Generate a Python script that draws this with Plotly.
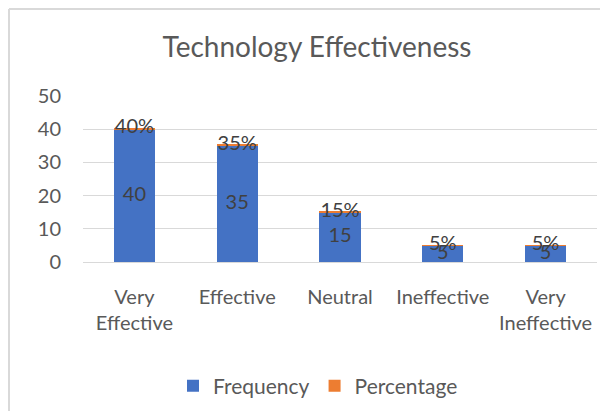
import plotly.graph_objects as go

categories = ["Very<br>Effective", "Effective", "Neutral", "Ineffective", "Very<br>Ineffective"]
frequency = [40, 35, 15, 5, 5]
percentage = [0.40, 0.35, 0.15, 0.05, 0.05]
y_ticks = [0, 10, 20, 30, 40, 50]

BLUE = "#4472C4"
ORANGE = "#ED7D31"
AXIS_TXT = "#595959"
LABEL_TXT = "#404040"
FONT = "Lato"

fig = go.Figure()
fig.add_trace(go.Bar(x=categories, y=frequency, name="Frequency", marker=dict(color=BLUE, line=dict(width=0)),
                     width=0.4, hoverinfo="skip"))
fig.add_trace(go.Bar(x=categories, y=percentage, name="Percentage", marker=dict(color=ORANGE, line=dict(width=0)),
                     width=0.4, hoverinfo="skip"))
# data labels
fig.add_trace(go.Scatter(x=categories, y=[f / 2 for f in frequency], mode="text",
                         text=[str(f) for f in frequency], showlegend=False, cliponaxis=False,
                         textfont=dict(family=FONT, size=20, color=LABEL_TXT), hoverinfo="skip"))
fig.add_trace(go.Scatter(x=categories, y=[f + p for f, p in zip(frequency, percentage)], mode="text",
                         text=[f"{p:.0%}" for p in percentage], showlegend=False, cliponaxis=False,
                         textfont=dict(family=FONT, size=20, color=LABEL_TXT), hoverinfo="skip"))

# page body has an 8px margin; figure coordinates = page coordinates - 8
OFF = 8
W, H = 608 - 2 * OFF, 419 - 2 * OFF
L, R, T = 83 - OFF, W - (597 - OFF), 96 - OFF
B = H - (262 - OFF)
pw, ph = W - L - R, H - T - B

def px_x(x):
    return (x - OFF - L) / pw

def px_y(y):
    return (H - B - (y - OFF)) / ph

fig.update_layout(
    width=W, height=H,
    margin=dict(l=L, r=R, t=T, b=B),
    barmode="stack",
    bargap=0.6,
    paper_bgcolor="white", plot_bgcolor="white",
    font=dict(family=FONT, size=20, color=AXIS_TXT),
    title=dict(text="Technology Effectiveness", x=(317 - OFF) / W, y=1 - (47 - OFF) / H,
               xanchor="center", yanchor="middle",
               xref="container", yref="container", font=dict(family=FONT, size=28, color=AXIS_TXT)),
    legend=dict(orientation="h", x=px_x(318), y=px_y(386), xanchor="center", yanchor="middle",
                font=dict(family=FONT, size=21, color=AXIS_TXT), itemwidth=30, traceorder="normal"),
    xaxis=dict(showgrid=False, showline=True, linecolor="#d9d9d9", linewidth=1, ticks="",
               tickfont=dict(family=FONT, size=20, color=AXIS_TXT), ticklabelstandoff=17),
    yaxis=dict(range=[0, 50], tickvals=y_ticks, showgrid=True, gridcolor="#d9d9d9", gridwidth=1,
               zeroline=False, showline=False, ticks="",
               tickfont=dict(family=FONT, size=20, color=AXIS_TXT), ticklabelstandoff=21),
    shapes=[
        dict(type="line", xref="paper", yref="paper", x0=px_x(9), x1=px_x(620), y0=px_y(9), y1=px_y(9),
             line=dict(color="#d9d9d9", width=2)),
        dict(type="line", xref="paper", yref="paper", x0=px_x(9), x1=px_x(9), y0=px_y(9), y1=px_y(430),
             line=dict(color="#d9d9d9", width=2)),
    ],
)

fig.write_html("out.html")
